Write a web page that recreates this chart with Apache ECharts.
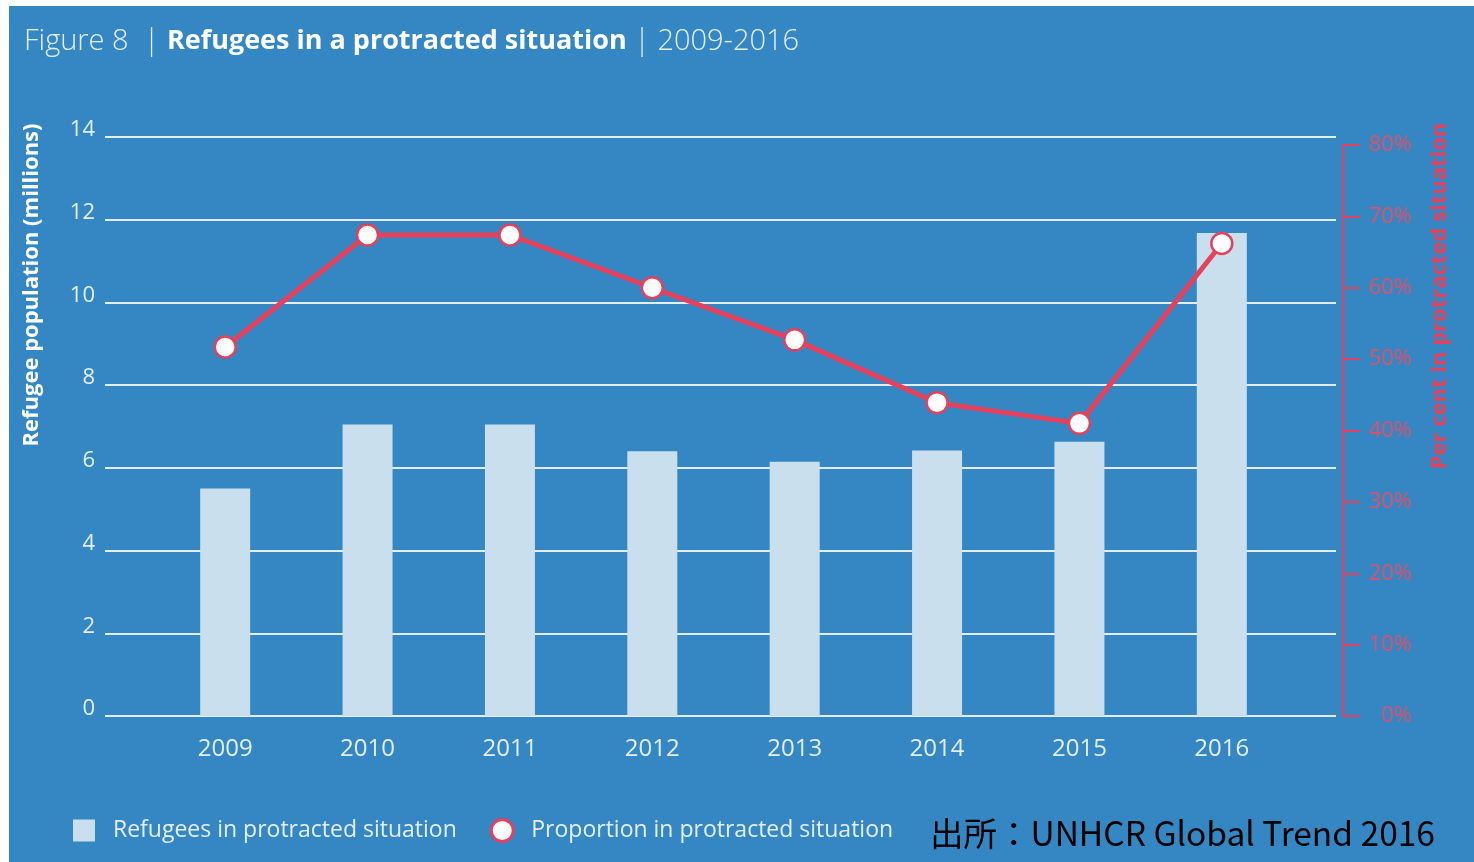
<!DOCTYPE html>
<html>
<head>
<meta charset="utf-8">
<script src="https://cdn.jsdelivr.net/npm/echarts@6/dist/echarts.min.js"></script>
<style>
html,body{margin:0;padding:0;background:#ffffff;}
#bg{position:absolute;left:9px;top:6px;width:1465px;height:856px;background:#3487c3;}
#chart{position:absolute;left:0;top:0;width:1474px;height:862px;}
</style>
</head>
<body>
<div id="bg"></div>
<div id="chart"></div>
<script>
const years = ['2009','2010','2011','2012','2013','2014','2015','2016'];
const refugeesMillions = [5.5, 7.05, 7.05, 6.4, 6.15, 6.42, 6.63, 11.68];
const proportionPct = [51.7, 67.4, 67.4, 60.0, 52.7, 43.9, 41.0, 66.2];
const leftTicks = {min: 0, max: 14, interval: 2};
const rightTicks = {min: 0, max: 80, interval: 10};
const barName = 'Refugees in protracted situation';
const lineName = 'Proportion in protracted situation';

const FONT = '"Open Sans", Lato, sans-serif';
const WHITE = '#e4eef7';
const RED = '#e5405c';
const PINK = '#e0506a';

const chart = echarts.init(document.getElementById('chart'), null, {renderer: 'canvas'});
chart.setOption({
  backgroundColor: 'transparent',
  animation: false,
  textStyle: {fontFamily: FONT},
  title: {
    left: 24, top: 27, padding: 0,
    text: '{l|Figure 8  | }{b|Refugees in a protracted situation}{l| | 2009-2016}',
    textStyle: {
      rich: {
        l: {fontFamily: FONT, fontSize: 29, fontWeight: 300, color: WHITE},
        b: {fontFamily: FONT, fontSize: 27, fontWeight: 'bold', color: '#ffffff'}
      }
    }
  },
  legend: {
    left: 73, top: 818, padding: 0,
    itemWidth: 22, itemHeight: 22, itemGap: 33,
    textStyle: {color: WHITE, fontSize: 23, fontFamily: FONT, padding: [0, 0, 0, 13]},
    data: [
      {name: barName, icon: 'rect', itemStyle: {color: '#c9dfee', borderWidth: 0}},
      {name: lineName, icon: 'circle', itemStyle: {color: '#ffffff', borderColor: RED, borderWidth: 3}}
    ]
  },
  grid: [
    {left: 105, right: 138, top: 137, bottom: 146},
    {left: 154, right: 181, top: 137, bottom: 146},
    {left: 154, right: 181, top: 145, bottom: 146}
  ],
  xAxis: [
    {type: 'category', gridIndex: 0, data: years, show: false},
    {type: 'category', gridIndex: 1, data: years,
     axisLine: {show: false}, axisTick: {show: false},
     axisLabel: {color: WHITE, fontSize: 24, margin: 21, fontFamily: FONT}},
    {type: 'category', gridIndex: 2, data: years, show: false}
  ],
  yAxis: [
    {type: 'value', gridIndex: 0, min: leftTicks.min, max: leftTicks.max, interval: leftTicks.interval,
     axisLine: {show: false}, axisTick: {show: false},
     axisLabel: {color: WHITE, fontSize: 22, margin: 10, fontFamily: FONT, verticalAlign: 'bottom', lineHeight: 14},
     splitLine: {show: true, lineStyle: {color: '#e2edf6', width: 2}}},
    {type: 'value', gridIndex: 1, min: leftTicks.min, max: leftTicks.max, interval: leftTicks.interval, show: false,
     splitLine: {show: false}},
    {type: 'value', gridIndex: 2, position: 'right', offset: 50,
     min: rightTicks.min, max: rightTicks.max, interval: rightTicks.interval,
     axisLine: {show: true, lineStyle: {color: RED, width: 2}},
     axisTick: {show: true, length: 17, lineStyle: {color: RED, width: 2}},
     axisLabel: {color: PINK, fontSize: 22, margin: 69, align: 'right', fontFamily: FONT, formatter: '{value}%'},
     splitLine: {show: false}}
  ],
  series: [
    {name: barName, type: 'bar', xAxisIndex: 1, yAxisIndex: 1, data: refugeesMillions,
     barWidth: 50, itemStyle: {color: '#c9dfee'}},
    {name: lineName, type: 'line', xAxisIndex: 2, yAxisIndex: 2, data: proportionPct,
     symbol: 'circle', symbolSize: 21,
     lineStyle: {color: RED, width: 5},
     itemStyle: {color: '#ffffff', borderColor: RED, borderWidth: 2.5}}
  ],
  graphic: [
    {type: 'text', x: 32, y: 285, rotation: Math.PI / 2,
     style: {text: 'Refugee population (millions)', fill: '#ffffff', font: 'bold 22px ' + FONT,
             textAlign: 'center', textVerticalAlign: 'middle'}},
    {type: 'text', x: 1440, y: 296, rotation: Math.PI / 2,
     style: {text: 'Per cent in protracted situation', fill: RED, font: 'bold 22px ' + FONT,
             textAlign: 'center', textVerticalAlign: 'middle'}},
    {type: 'text', x: 930, y: 833,
     style: {text: '出所：UNHCR Global Trend 2016', fill: '#000000', font: '33.5px "Noto Sans CJK JP"',
             textAlign: 'left', textVerticalAlign: 'middle'}}
  ]
});
</script>
</body>
</html>
